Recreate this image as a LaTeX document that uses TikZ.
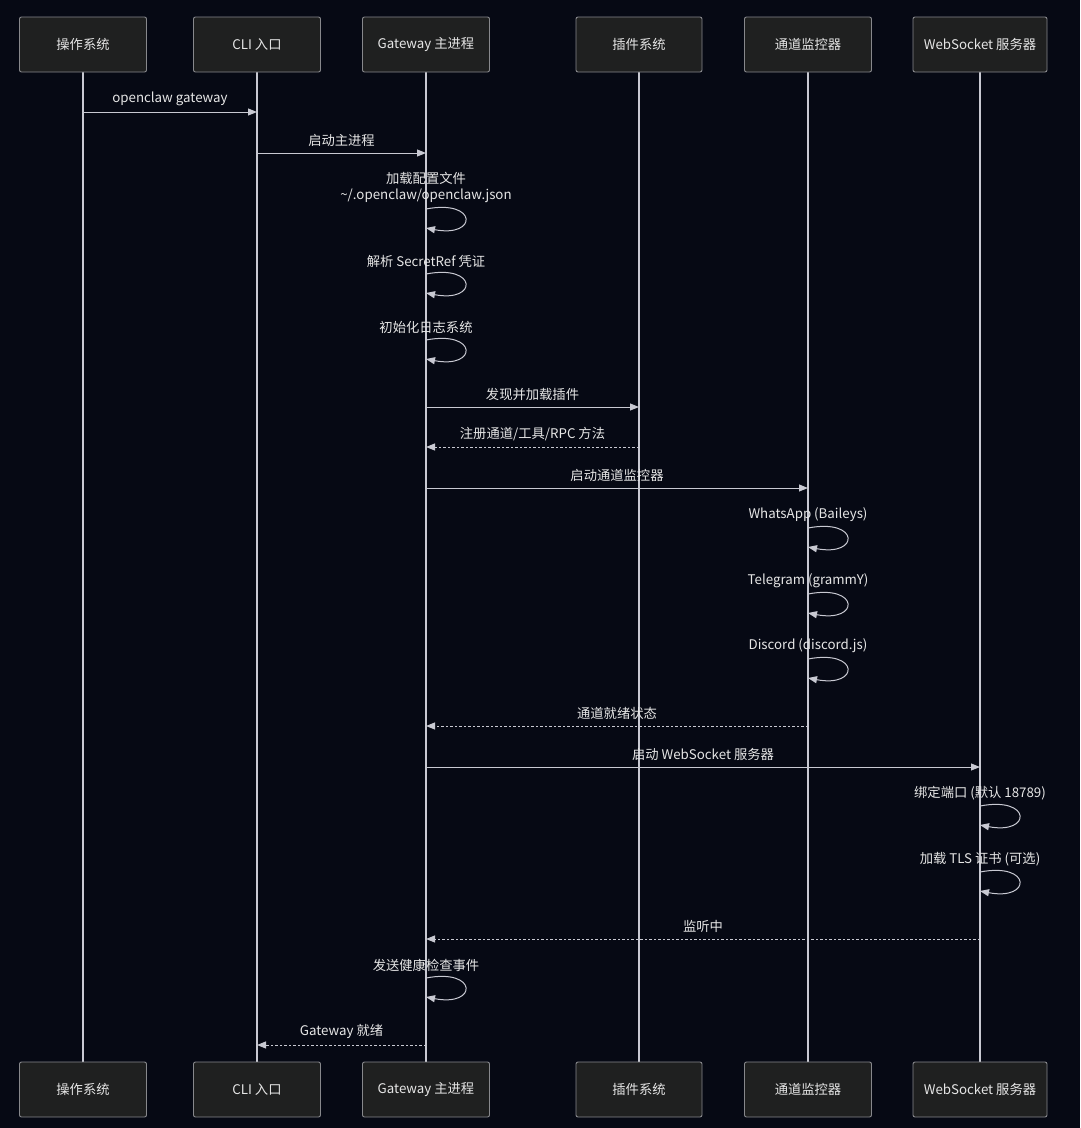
\documentclass[tikz,border=0pt]{standalone}
\usepackage{fontspec}
\setmainfont{Noto Sans CJK SC}
\usetikzlibrary{arrows.meta}
\definecolor{canvas}{RGB}{6,9,20}
\definecolor{actorfill}{RGB}{31,32,32}
\definecolor{actorline}{RGB}{135,136,140}
\definecolor{wire}{RGB}{200,201,210}
\definecolor{ink}{RGB}{230,230,230}

\begin{document}
\begin{tikzpicture}[x=1pt,y=-1pt,
  actor/.style={draw=actorline,fill=actorfill,rounded corners=2pt,line width=0.9pt,
    minimum height=55pt,text=ink,font=\fontsize{13.3}{15}\selectfont},
  life/.style={draw=wire,line width=1.2pt},
  msg/.style={draw=wire,line width=1pt,-{Triangle[length=9pt,width=7pt]}},
  reply/.style={msg,dash pattern=on 2.5pt off 2pt},
  lbl/.style={text=ink,inner sep=0pt,align=center,font=\fontsize{13.3}{16}\selectfont}]
 \fill[canvas] (0,0) rectangle (1080,1128);
 \useasboundingbox (0,0) rectangle (1080,1128);
 % participants, top and bottom, with lifelines
 \foreach \n/\x/\w/\t in {os/83/127/操作系统, cli/257/127/CLI 入口, gw/426/127/Gateway 主进程,
   plug/639/126/插件系统, chan/808/127/通道监控器, ws/980/134/WebSocket 服务器} {
   \draw[life] (\x,72) -- (\x,1062);
   \node[actor,minimum width=\w pt] (\n) at (\x,44.5) {\t};
   \node[actor,minimum width=\w pt] (\n b) at (\x,1089.5) {\t};
 }
 % calls
 \foreach \a/\b/\y/\t in {os/cli/112/openclaw gateway, cli/gw/153/启动主进程,
   gw/plug/407/发现并加载插件, gw/chan/488/启动通道监控器, gw/ws/767/启动 WebSocket 服务器}
   \draw[msg] (\a |- 0,\y) -- node[lbl,midway,above=6pt]{\t} (\b |- 0,\y);
 % replies
 \foreach \a/\b/\y/\t in {plug/gw/447/{注册通道/工具/RPC 方法}, chan/gw/726/通道就绪状态,
   ws/gw/939/监听中, gw/cli/1045/Gateway 就绪}
   \draw[reply] (\a |- 0,\y) -- node[lbl,midway,above=6pt]{\t} (\b |- 0,\y);
 % self calls
 \foreach \a/\y/\t in {gw/209/{加载配置文件\\\textasciitilde/.openclaw/openclaw.json},
   gw/274/解析 SecretRef 凭证, gw/340/初始化日志系统,
   chan/528/WhatsApp (Baileys), chan/594/Telegram (grammY), chan/659/Discord (discord.js),
   ws/806/绑定端口 (默认 18789), ws/872/加载 TLS 证书 (可选), gw/978/发送健康检查事件} {
   \node[lbl,above=6pt] at (\a |- 0,\y) {\t};
   \draw[msg] (\a |- 0,\y) .. controls +(52,-10) and +(52,10) .. +(0,19);
 }
\end{tikzpicture}
\end{document}
